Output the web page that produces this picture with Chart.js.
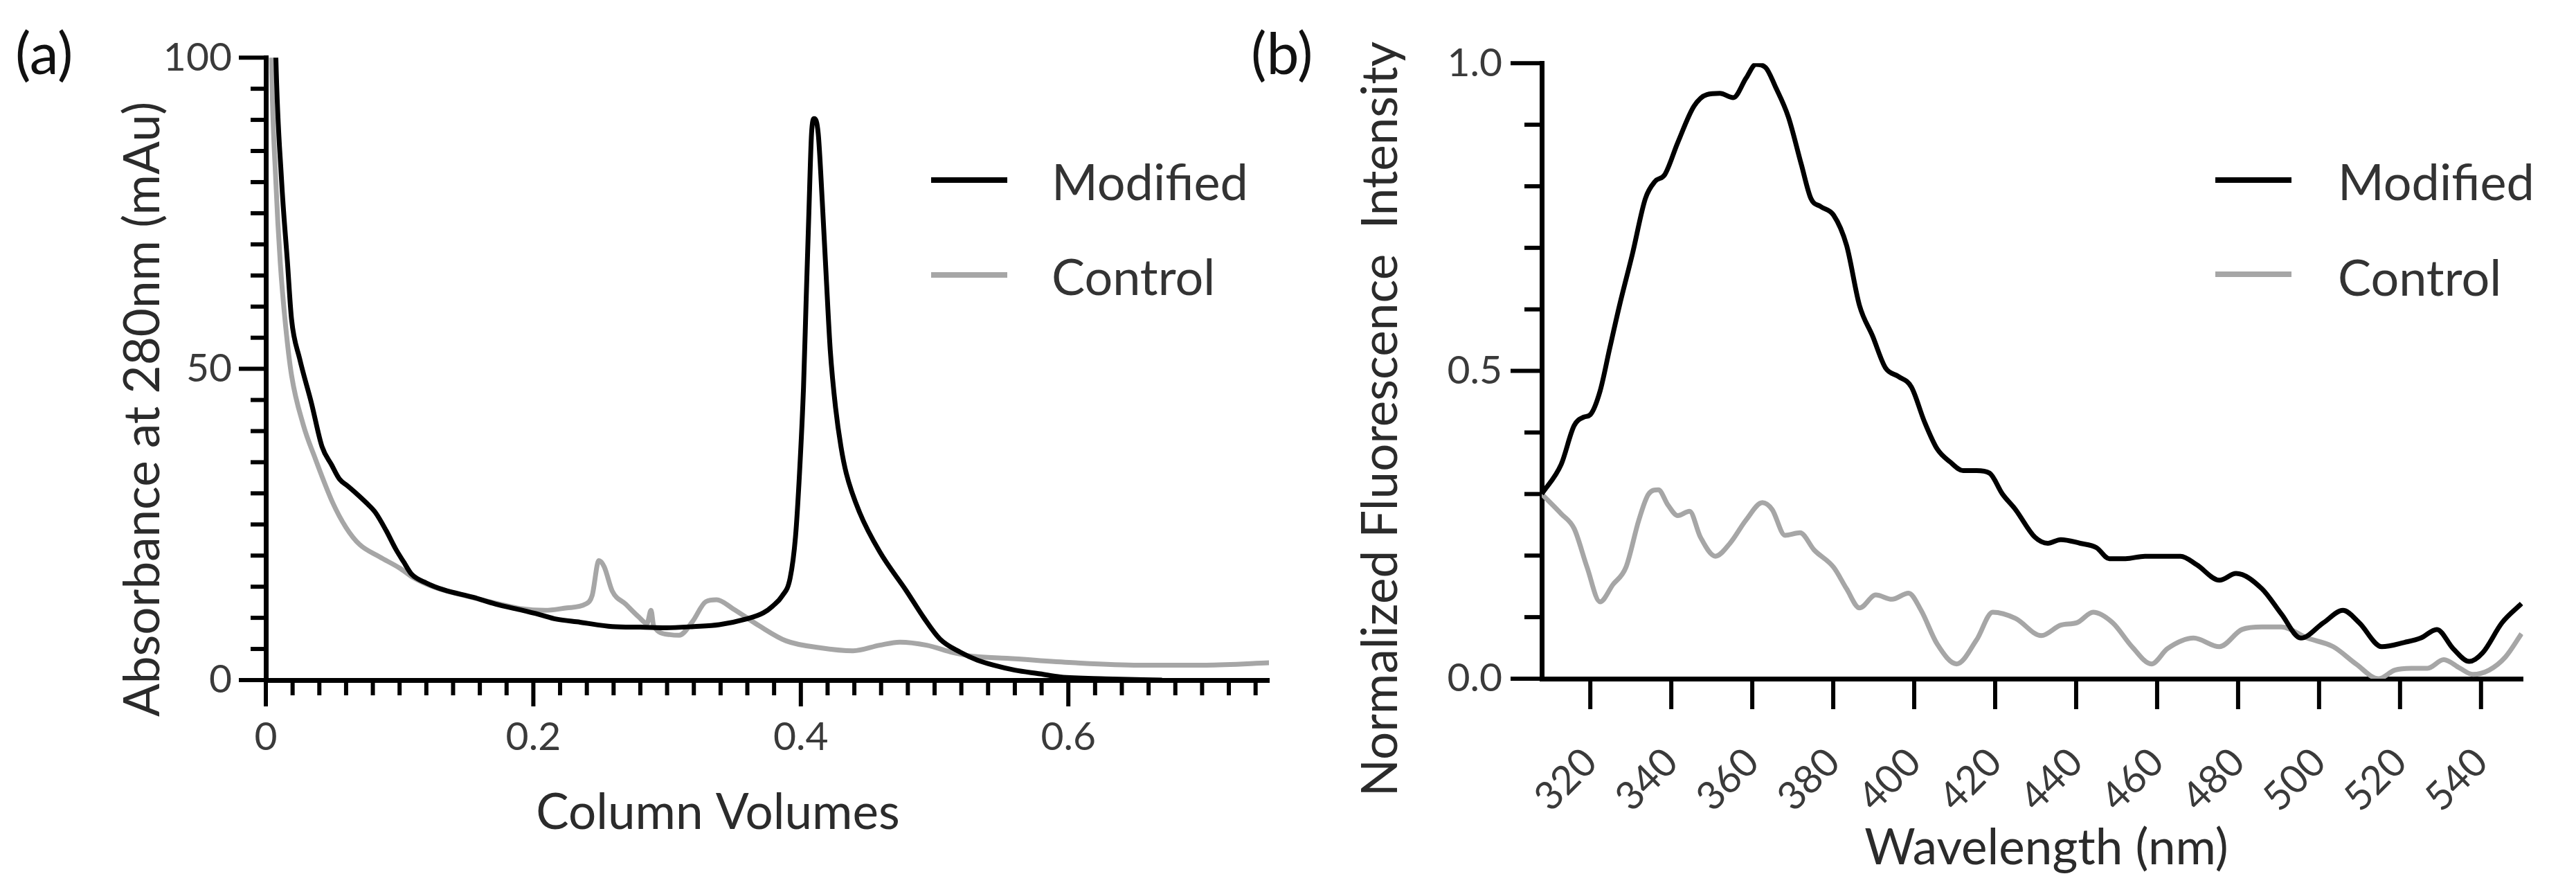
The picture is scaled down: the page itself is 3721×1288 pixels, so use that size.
<!DOCTYPE html>
<html>
<head>
<meta charset="utf-8">
<script src="https://cdn.jsdelivr.net/npm/chart.js@4.4.1/dist/chart.umd.min.js"></script>
<style>
  html, body { margin: 0; padding: 0; background: #fff; }
  body { width: 3721px; height: 1288px; position: relative; overflow: hidden; }
  canvas { position: absolute; top: 0; }
  #chartA { left: 0; }
  #chartB { left: 1780px; }
</style>
</head>
<body>
<canvas id="chartA" width="1870" height="1288" style="width:1870px;height:1288px"></canvas>
<canvas id="chartB" width="1941" height="1288" style="width:1941px;height:1288px"></canvas>
<script>
// (a) absorbance trace, column volumes vs mAu
var cvModified = [0.0065, 0.0075, 0.0117, 0.0162, 0.0192, 0.0252, 0.0341, 0.042, 0.0491, 0.055, 0.0611, 0.067, 0.075, 0.082, 0.09, 0.097, 0.103, 0.109, 0.12, 0.133, 0.155, 0.172, 0.19, 0.205, 0.217, 0.235, 0.259, 0.28, 0.299, 0.32, 0.339, 0.359, 0.372, 0.379, 0.386, 0.392, 0.396, 0.399, 0.402, 0.404, 0.406, 0.408, 0.410, 0.413, 0.416, 0.419, 0.422, 0.426, 0.430, 0.434, 0.444, 0.459, 0.479, 0.492, 0.504, 0.519, 0.532, 0.544, 0.56, 0.579, 0.594, 0.628, 0.67]
var absModified = [112, 100, 80.5, 67, 58, 51.7, 44.5, 37.5, 34.6, 32.3, 31.2, 30.1, 28.5, 26.9, 24, 21.1, 19, 17, 15.6, 14.5, 13.3, 12.2, 11.3, 10.5, 9.8, 9.3, 8.6, 8.5, 8.4, 8.6, 8.9, 9.8, 10.8, 11.9, 13.5, 16.4, 23, 33.2, 47, 61.2, 75, 87.8, 90.2, 87.8, 77, 64.7, 53, 43.7, 37.5, 33.2, 26.9, 20.6, 14.3, 10, 6.6, 4.5, 3.2, 2.4, 1.6, 1.0, 0.5, 0.2, 0]
var cvControl = [0.0035, 0.0042, 0.0075, 0.0108, 0.0147, 0.0192, 0.028, 0.0371, 0.05, 0.06, 0.07, 0.085, 0.1, 0.11, 0.125, 0.15, 0.175, 0.19, 0.209, 0.225, 0.239, 0.244, 0.249, 0.253, 0.259, 0.269, 0.279, 0.285, 0.288, 0.29, 0.302, 0.309, 0.319, 0.329, 0.337, 0.349, 0.369, 0.389, 0.414, 0.439, 0.459, 0.474, 0.494, 0.514, 0.529, 0.554, 0.603, 0.653, 0.703, 0.753]
var absControl = [112, 100, 80, 67, 57.1, 49, 41, 35.5, 28.5, 24.5, 21.8, 19.8, 18, 16.5, 15, 13.5, 12.2, 11.5, 11.2, 11.6, 12.2, 13.6, 19.2, 18.2, 14.3, 12.2, 10.1, 9.1, 11.2, 8.7, 7.3, 7.2, 9.4, 12.6, 12.9, 11.5, 8.7, 6.3, 5.2, 4.7, 5.6, 6.1, 5.6, 4.4, 3.8, 3.5, 2.8, 2.4, 2.4, 2.8]

// (b) fluorescence spectra
var wlModified = [308, 312.8, 316, 318.4, 320, 322.4, 324.8, 327.2, 330.4, 333.6, 336, 338.4, 341.6, 345.6, 348.8, 352, 355.3, 358.5, 360.9, 363.3, 365.7, 368.9, 372.1, 374.5, 376.9, 380.1, 383.3, 386.5, 389.7, 392.9, 396.1, 399.3, 402.5, 405.7, 408.9, 412.1, 415.4, 418.6, 421.8, 425, 429.8, 433, 436.2, 441, 445, 448.2, 452.2, 457, 461.8, 465.8, 469.8, 475.4, 479.5, 485.9, 490.7, 495.5, 501.1, 505.9, 509.9, 515.5, 521.1, 525.1, 529.1, 533.1, 537.1, 540.4, 545.2, 550]
var flModified = [0.300, 0.348, 0.411, 0.425, 0.429, 0.467, 0.537, 0.606, 0.690, 0.780, 0.808, 0.819, 0.871, 0.930, 0.949, 0.951, 0.944, 0.976, 0.998, 0.993, 0.962, 0.913, 0.836, 0.780, 0.767, 0.753, 0.704, 0.606, 0.557, 0.505, 0.491, 0.474, 0.418, 0.373, 0.352, 0.338, 0.338, 0.334, 0.300, 0.275, 0.230, 0.220, 0.226, 0.220, 0.213, 0.195, 0.195, 0.199, 0.199, 0.199, 0.185, 0.160, 0.171, 0.146, 0.105, 0.066, 0.091, 0.111, 0.091, 0.052, 0.059, 0.066, 0.080, 0.049, 0.028, 0.042, 0.091, 0.122]
var wlControl = [308, 312.8, 316, 319.2, 322.4, 325.6, 328.8, 332, 334.4, 336.8, 339.2, 341.6, 344.5, 347.2, 350.9, 354.5, 358.5, 362.5, 364.9, 368.1, 371.8, 375.3, 380.1, 383.3, 386.5, 390.5, 394.5, 398.6, 401.7, 405.7, 410.5, 415.4, 419.4, 425, 431.4, 436.2, 440.2, 444.2, 449, 453.8, 458.6, 462.6, 469, 475.4, 481, 485.9, 490.7, 497.1, 503.5, 509.1, 514.7, 518.7, 522.8, 526.8, 530.8, 534.8, 538, 542, 546, 550]
var flControl = [0.300, 0.268, 0.244, 0.181, 0.125, 0.153, 0.181, 0.258, 0.300, 0.307, 0.282, 0.265, 0.272, 0.230, 0.199, 0.220, 0.258, 0.286, 0.275, 0.233, 0.237, 0.209, 0.181, 0.146, 0.115, 0.136, 0.129, 0.139, 0.111, 0.056, 0.024, 0.063, 0.108, 0.098, 0.070, 0.087, 0.091, 0.108, 0.091, 0.052, 0.024, 0.049, 0.066, 0.052, 0.080, 0.084, 0.084, 0.066, 0.052, 0.024, 0.000, 0.014, 0.017, 0.017, 0.031, 0.017, 0.007, 0.014, 0.035, 0.073]

// tick labels
var cvTicks = [0, 0.2, 0.4, 0.6]
var absTicks = [0, 50, 100]
var wlTicks = [320, 340, 360, 380, 400, 420, 440, 460, 480, 500, 520, 540]
var flTicks = [0, 0.5, 1.0]

var seriesNames = ['Modified', 'Control']
var seriesColors = ['#000000', '#a6a6a6']

Chart.defaults.font.family = 'Lato'
Chart.defaults.animation = false

function toPoints(xs, ys) {
  return xs.map(function (x, i) { return { x: x, y: ys[i] } })
}

// minor tick positions between the labelled ones
function steps(from, to, step) {
  var out = []
  for (var v = from; v <= to + step / 1000; v += step) out.push(Math.round(v * 1000) / 1000)
  return out
}

// tick marks drawn from the scales, majors longer than minors
function tickMarks(xVals, xMajor, xLens, yVals, yMajor, yLens) {
  function isMajor(list, v) { return list.some(function (m) { return Math.abs(m - v) < 1e-6 }) }
  return {
    id: 'tickMarks',
    afterDatasetsDraw(chart) {
      var ctx = chart.ctx, area = chart.chartArea
      ctx.save()
      ctx.strokeStyle = '#000'
      ctx.lineWidth = 6
      xVals.forEach(function (v) {
        var px = chart.scales.x.getPixelForValue(v)
        var len = isMajor(xMajor, v) ? xLens[1] : xLens[0]
        ctx.beginPath(); ctx.moveTo(px, area.bottom); ctx.lineTo(px, area.bottom + len); ctx.stroke()
      })
      yVals.forEach(function (v) {
        var py = chart.scales.y.getPixelForValue(v)
        var len = isMajor(yMajor, v) ? yLens[1] : yLens[0]
        ctx.beginPath(); ctx.moveTo(area.left, py); ctx.lineTo(area.left - len, py); ctx.stroke()
      })
      ctx.restore()
    }
  }
}

// legend with a short line sample next to each name
function lineLegend(x1, x2, lineY, textX, textY) {
  return {
    id: 'lineLegend',
    afterDraw(chart) {
      var ctx = chart.ctx
      ctx.save()
      chart.data.datasets.forEach(function (ds, i) {
        ctx.strokeStyle = ds.borderColor
        ctx.lineWidth = 8
        ctx.beginPath(); ctx.moveTo(x1, lineY[i]); ctx.lineTo(x2, lineY[i]); ctx.stroke()
        ctx.fillStyle = '#333'
        ctx.font = '72px Lato'
        ctx.textAlign = 'left'
        ctx.textBaseline = 'alphabetic'
        ctx.fillText(ds.label, textX, textY[i])
      })
      ctx.restore()
    }
  }
}

// axis titles and panel letters
function panelText(items) {
  return {
    id: 'panelText',
    afterDraw(chart) {
      var ctx = chart.ctx
      items.forEach(function (t) {
        ctx.save()
        ctx.translate(t.x, t.y)
        if (t.rot) ctx.rotate(t.rot)
        ctx.font = t.font
        ctx.fillStyle = t.color || '#2b2b2b'
        ctx.textAlign = t.align || 'center'
        ctx.textBaseline = 'alphabetic'
        ctx.fillText(t.text, 0, 0)
        ctx.restore()
      })
    }
  }
}

function axis(min, max, ticks, fmt, pad, fit, extra) {
  var a = {
    type: 'linear', min: min, max: max,
    afterBuildTicks: function (s) { s.ticks = ticks.map(function (v) { return { value: v } }) },
    afterFit: fit,
    grid: { display: true, drawOnChartArea: false, drawTicks: false },
    border: { display: true, color: '#000', width: 7 },
    ticks: { padding: pad, color: '#3a3a3a', font: { size: 57 }, autoSkip: false, callback: fmt }
  }
  Object.assign(a.ticks, extra || {})
  return a
}

new Chart(document.getElementById('chartA'), {
  type: 'line',
  data: {
    datasets: [
      { label: seriesNames[0], data: toPoints(cvModified, absModified), borderColor: seriesColors[0] },
      { label: seriesNames[1], data: toPoints(cvControl, absControl), borderColor: seriesColors[1] }
    ]
  },
  options: {
    responsive: false,
    devicePixelRatio: 1,
    layout: { padding: { left: 0, top: 69, right: 37, bottom: 0 } },
    elements: { point: { radius: 0 }, line: { borderWidth: 7, cubicInterpolationMode: 'monotone' } },
    scales: {
      x: axis(0, 0.75, cvTicks, function (v) { return String(v) }, 48, function (s) { s.height = 306 }, { maxRotation: 0 }),
      y: axis(0, 100, absTicks, function (v) { return String(v) }, 49, function (s) { s.width = 384 })
    },
    plugins: { legend: { display: false }, tooltip: { enabled: false } }
  },
  plugins: [
    tickMarks(steps(0, 0.74, 0.02), cvTicks, [22, 38], steps(0, 100, 5), absTicks, [22, 39]),
    lineLegend(1345, 1455, [260, 397], 1519, [289, 426]),
    panelText([
      { text: '(a)', x: 22, y: 107, font: '84px Lato', align: 'left', color: '#111' },
      { text: 'Column Volumes', x: 1037, y: 1197, font: '71px Lato' },
      { text: 'Absorbance at 280nm (mAu)', x: 230, y: 591, rot: -Math.PI / 2, font: '71px Lato' }
    ])
  ]
})

new Chart(document.getElementById('chartB'), {
  type: 'line',
  data: {
    datasets: [
      { label: seriesNames[0], data: toPoints(wlModified, flModified), borderColor: seriesColors[0] },
      { label: seriesNames[1], data: toPoints(wlControl, flControl), borderColor: seriesColors[1] }
    ]
  },
  options: {
    responsive: false,
    devicePixelRatio: 1,
    layout: { padding: { left: 0, top: 62, right: 43, bottom: 0 } },
    elements: { point: { radius: 0 }, line: { borderWidth: 7, cubicInterpolationMode: 'monotone' } },
    scales: {
      x: axis(308, 550.4, wlTicks, function (v) { return String(v) }, 87, function (s) { s.height = 308 }, { minRotation: 45, maxRotation: 45 }),
      y: axis(0, 1, flTicks, function (v) { return v.toFixed(1) }, 57, function (s) { s.width = 447 })
    },
    plugins: { legend: { display: false }, tooltip: { enabled: false } }
  },
  plugins: [
    tickMarks(wlTicks, wlTicks, [44, 44], steps(0, 1, 0.1), flTicks, [25, 45]),
    lineLegend(1420, 1530, [260, 396], 1597, [289, 427]),
    panelText([
      { text: '(b)', x: 27, y: 107, font: '84px Lato', align: 'left', color: '#111' },
      { text: 'Wavelength (nm)', x: 1176, y: 1248, font: '71px Lato' },
      { text: 'Normalized Fluorescence  Intensity', x: 238, y: 605, rot: -Math.PI / 2, font: '71px Lato' }
    ])
  ]
})
</script>
</body>
</html>
